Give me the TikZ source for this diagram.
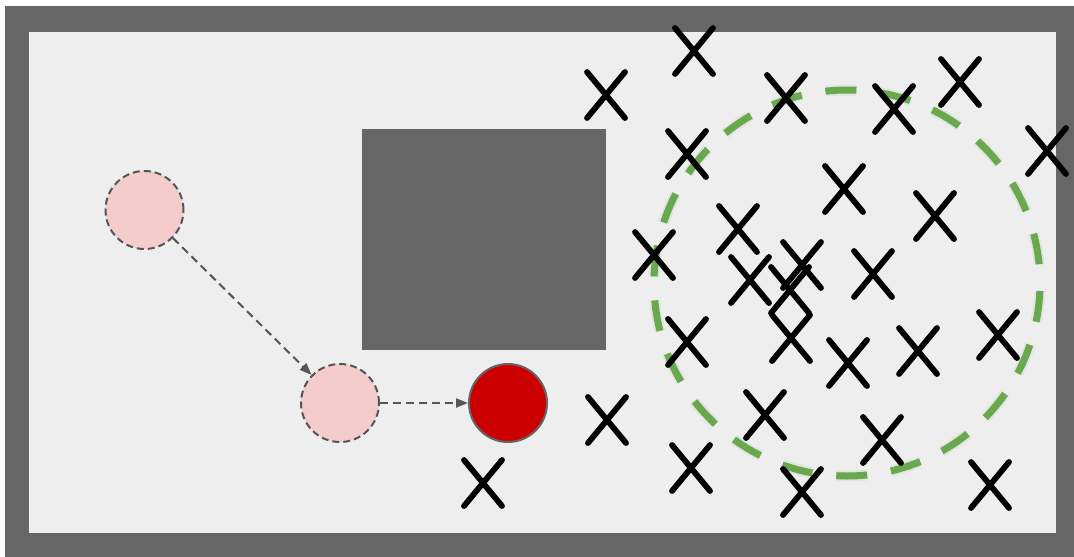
\documentclass[tikz,border=0pt]{standalone}
\usetikzlibrary{arrows.meta}
\definecolor{framegray}{HTML}{666666}
\definecolor{floorgray}{HTML}{EEEEEE}
\definecolor{pinkfill}{HTML}{F4CCCC}
\definecolor{redfill}{HTML}{CC0000}
\definecolor{edgegray}{HTML}{555555}
\definecolor{greenring}{HTML}{6AA84F}
\tikzset{
  ghost/.style={circle, minimum size=78pt, inner sep=0pt, fill=pinkfill, draw=edgegray, line width=2pt, dash pattern=on 7pt off 4pt},
  robot/.style={circle, minimum size=78pt, inner sep=0pt, fill=redfill, draw=framegray, line width=2pt},
  conn/.style={draw=edgegray, line width=2pt, dash pattern=on 8pt off 5pt, -{Triangle[length=12pt,width=9pt]}},
  xline/.style={line width=5.8pt, line cap=round},
  xmark/.pic={\draw[xline] (-19,-23) -- (19,23) (-19,23) -- (19,-23);},
  ring/.style={draw=greenring, line width=7pt, dash pattern=on 31pt off 24pt, dash phase=47pt}
}
\begin{document}
\begin{tikzpicture}[x=1pt, y=-1pt]
\useasboundingbox (0,0) rectangle (1074,557);
% frame and floor
\fill[framegray] (5,6) rectangle (1074,557);
\fill[floorgray] (29,32) rectangle (1056,533);
% obstacle
\fill[framegray] (362,129) rectangle (606,350);
% green region ring with soft glow
\draw[ring, line width=11pt, opacity=0.1] (847,283) circle[radius=193];
\draw[ring] (847,283) circle[radius=193];
% agents
\node[ghost] (g1) at (144.5,210) {};
\node[ghost] (g2) at (340,403) {};
\node[robot] (r) at (508,403) {};
\draw[conn] (g1) -- (g2);
\draw[conn] (g2) -- (r);
% X marks
\foreach \px/\py in {606/95, 694/51, 786/98, 894/109, 960/82, 1047/151,
  687/154, 844/189, 935/216, 738/229, 654/255, 750/280, 802/265, 790/290,
  791/338, 873/274, 687/342, 848/363, 918/351, 998/335, 607/420, 765/415,
  882/440, 691/468, 802/492, 990/485, 483/483}
  \pic at (\px,\py) {xmark};
\end{tikzpicture}
\end{document}
